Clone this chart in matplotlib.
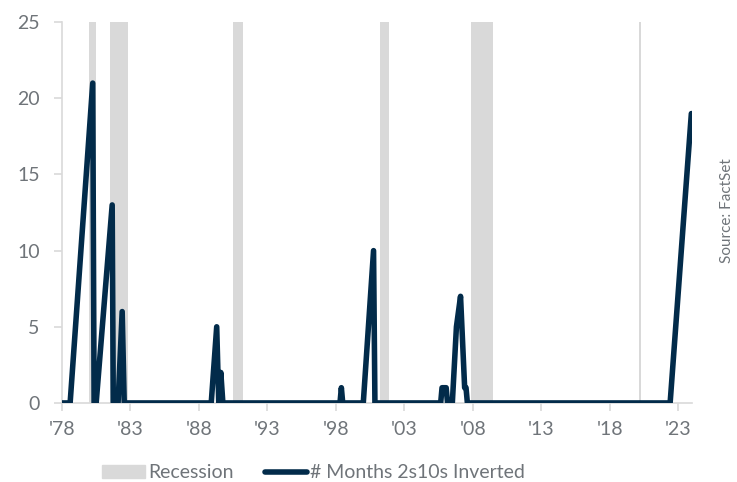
import matplotlib.pyplot as plt
from matplotlib.patches import Patch
from matplotlib.lines import Line2D

plt.rcParams['font.family'] = ['Lato', 'DejaVu Sans']

# decimal year / months inverted
years = [1978.0, 1978.6, 1980.25, 1980.35, 1980.5, 1981.67, 1981.75, 1982.1,
         1982.4, 1982.55, 1988.9, 1989.3, 1989.45, 1989.6, 1989.75, 1998.3,
         1998.4, 1998.5, 2000.0, 2000.75, 2000.85, 2005.65, 2005.75, 2006.05,
         2006.15, 2006.5, 2006.8, 2007.1, 2007.4, 2007.5, 2007.6, 2022.4,
         2023.95]
months = [0, 0, 21, 0, 0, 13, 0, 0,
          6, 0, 0, 5, 0, 2, 0, 0,
          1, 0, 0, 10, 0, 0, 1, 1,
          0, 0, 5, 7, 1, 1, 0, 0,
          19]

rec_start = [1980.0, 1981.5, 1990.5, 2001.2, 2007.9, 2020.1]
rec_end = [1980.5, 1982.85, 1991.2, 2001.85, 2009.45, 2020.3]

xticks = [1978, 1983, 1988, 1993, 1998, 2003, 2008, 2013, 2018, 2023]
xlabels = ["'78", "'83", "'88", "'93", "'98", "'03", "'08", "'13", "'18", "'23"]

grey = '#6f7479'
navy = '#022b4a'
rec_col = '#d9d9d9'

fig = plt.figure(figsize=(7.37, 4.82), dpi=100)
ax = fig.add_axes([0.084, 0.164, 0.855, 0.79])

for s, e in zip(rec_start, rec_end):
    ax.axvspan(s, e, color=rec_col, lw=0, zorder=1)

ax.plot(years, months, color=navy, lw=4, solid_joinstyle='round',
        solid_capstyle='round', zorder=3)

ax.set_xlim(1978, 2024)
ax.set_ylim(0, 25)
ax.set_xticks(xticks)
ax.set_xticklabels(xlabels)
ax.set_yticks([0, 5, 10, 15, 20, 25])

for side in ['top', 'right']:
    ax.spines[side].set_visible(False)
for side in ['left', 'bottom']:
    ax.spines[side].set_color(rec_col)
    ax.spines[side].set_linewidth(1.2)

ax.tick_params(axis='both', colors=rec_col, labelcolor=grey, labelsize=14,
               length=6, width=1.2)
ax.tick_params(axis='x', pad=7)
ax.tick_params(axis='y', pad=10)

fig.text(0.986, 0.564, 'Source: FactSet', rotation=90, color=grey,
         fontsize=11, ha='center', va='center')

handles = [Patch(color=rec_col, label='Recession'),
           Line2D([], [], color=navy, lw=4, solid_capstyle='round',
                  label='# Months 2s10s Inverted')]
fig.legend(handles=handles, loc='lower left', bbox_to_anchor=(0.115, -0.035),
           ncol=2, frameon=False, fontsize=14, labelcolor=grey,
           handlelength=2.2, handletextpad=0.15, columnspacing=1.6)

fig.savefig('out.png', dpi=100)
